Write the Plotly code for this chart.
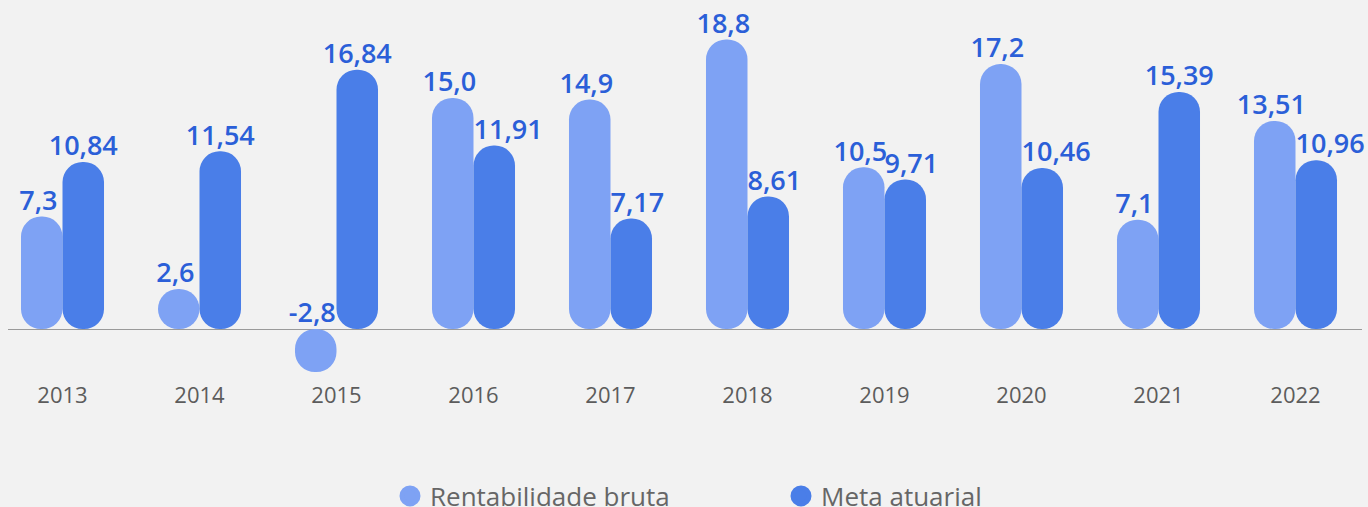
import numpy as np
import plotly.graph_objects as go

years = ["2013", "2014", "2015", "2016", "2017", "2018", "2019", "2020", "2021", "2022"]
rentabilidade = [7.3, 2.6, -2.8, 15.0, 14.9, 18.8, 10.5, 17.2, 7.1, 13.51]
meta = [10.84, 11.54, 16.84, 11.91, 7.17, 8.61, 9.71, 10.46, 15.39, 10.96]
rent_labels = ["7,3", "2,6", "-2,8", "15,0", "14,9", "18,8", "10,5", "17,2", "7,1", "13,51"]
meta_labels = ["10,84", "11,54", "16,84", "11,91", "7,17", "8,61", "9,71", "10,46", "15,39", "10,96"]

LIGHT = "#7ea2f4"
DARK = "#4a7ee8"
LABEL = "#2b5fd8"
BW = 0.303

x = np.arange(len(years))
r = np.array(rentabilidade, dtype=float)
m = np.array(meta, dtype=float)
fig = go.Figure()


def pill(v, color, offset, name):
    fig.add_trace(go.Bar(x=x, y=v, base=np.zeros_like(v), width=BW, offset=offset,
                         marker=dict(color=color, cornerradius="50%", line=dict(width=0)),
                         showlegend=False, name=name,
                         hovertemplate="%{y}<extra>" + name + "</extra>"))


pill(r, LIGHT, -BW, "Rentabilidade bruta")
pill(m, DARK, 0, "Meta atuarial")

label_font = dict(family="Open Sans", size=27, color=LABEL, weight=600)
# light-bar labels: centred on their bar (nudged slightly left)
fig.add_trace(go.Scatter(x=x - BW / 2 - 0.025, y=np.maximum(r, 0), mode="text",
                         text=rent_labels, textposition="top center", textfont=label_font,
                         showlegend=False, hoverinfo="skip", cliponaxis=False))
# dark-bar labels: centred, or starting at the bar's left edge when the light bar is taller
taller = r > m
fig.add_trace(go.Scatter(x=np.where(taller, x, x + BW / 2), y=np.maximum(m, 0), mode="text",
                         text=meta_labels,
                         textposition=np.where(taller, "top right", "top center").tolist(),
                         textfont=label_font,
                         showlegend=False, hoverinfo="skip", cliponaxis=False))

# legend entries with round symbols
fig.add_trace(go.Scatter(x=[None], y=[None], mode="markers", name="Rentabilidade bruta",
                         marker=dict(color=LIGHT, size=22, symbol="circle",
                                     line=dict(color=LIGHT, width=5))))
fig.add_trace(go.Scatter(x=[None], y=[None], mode="markers", name="Meta atuarial",
                         marker=dict(color=DARK, size=22, symbol="circle",
                                     line=dict(color=DARK, width=5))))

fig.update_layout(
    width=1368, height=507,
    margin=dict(l=8, r=6, t=10, b=127),
    paper_bgcolor="#f2f2f2", plot_bgcolor="#f2f2f2",
    barmode="overlay",
    showlegend=True,
    legend=dict(orientation="h", xref="container", yref="container",
                x=390 / 1368, xanchor="left", y=1 - 496 / 507, yanchor="middle",
                entrywidth=346, entrywidthmode="pixels",
                font=dict(family="Open Sans", size=26, color="#666666"),
                bgcolor="rgba(0,0,0,0)"),
    xaxis=dict(range=[-0.3978, 9.4854], tickmode="array", tickvals=x, ticktext=years,
               showgrid=False, zeroline=False, showline=False, ticks="",
               tickfont=dict(family="Open Sans", size=22, color="#5c5c5c")),
    yaxis=dict(range=[-3.312, 20.714], showgrid=False, zeroline=True,
               zerolinecolor="#9a9a9a", zerolinewidth=1, showticklabels=False, ticks=""),
)

fig.write_html("out.html", config={"displayModeBar": False})

# remove the default page margin so the figure sits at the window's top-left corner
with open("out.html", encoding="utf-8") as f:
    html = f.read()
html = html.replace("<head>", "<head><style>html,body{margin:0;padding:0;background:#f2f2f2;overflow:hidden}</style>", 1)
with open("out.html", "w", encoding="utf-8") as f:
    f.write(html)
